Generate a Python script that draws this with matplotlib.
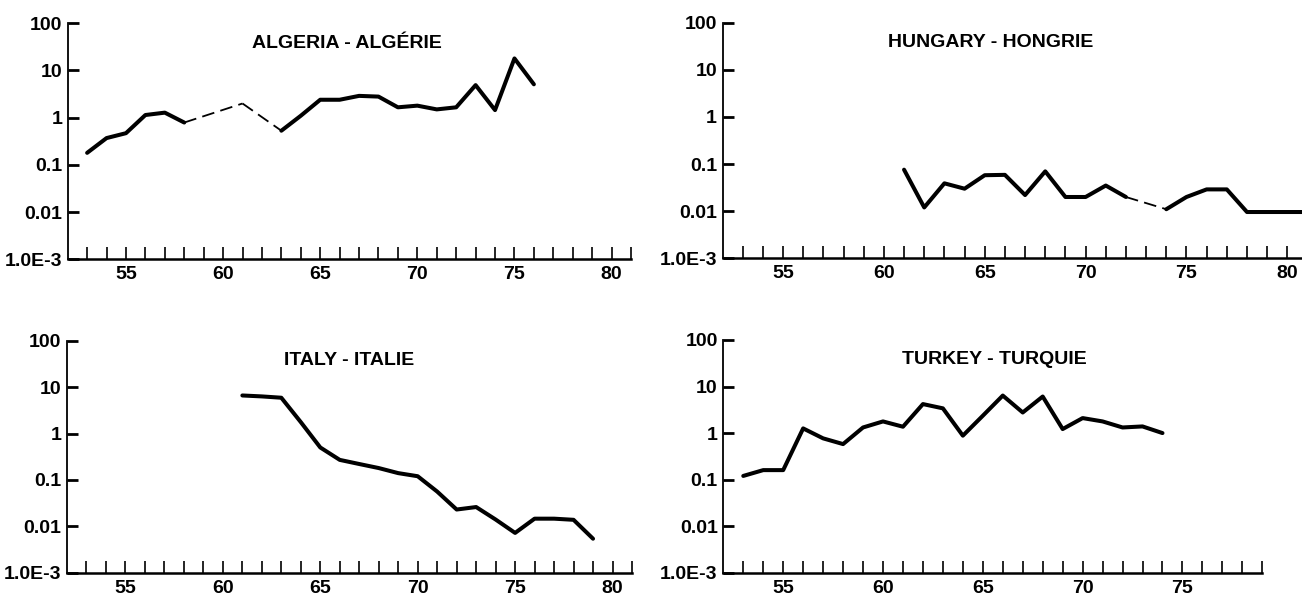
import matplotlib
matplotlib.use("Agg")
import matplotlib.pyplot as plt
import numpy as np

# ---------------- data ----------------
algeria_years = [53, 54, 55, 56, 57, 58, 61, 63, 64, 65, 66, 67, 68, 69, 70, 71, 72, 73, 74, 75, 76]
algeria_vals = [0.18, 0.37, 0.47, 1.14, 1.28, 0.79, 2.0, 0.53, 1.1, 2.4, 2.4, 2.9, 2.8, 1.66, 1.8, 1.5, 1.66, 4.9, 1.45, 18.0, 5.1]

hungary_years = [61, 62, 63, 64, 65, 66, 67, 68, 69, 70, 71, 72, 74, 75, 76, 77, 78, 79, 80, 81]
hungary_vals = [0.076, 0.012, 0.039, 0.030, 0.058, 0.059, 0.022, 0.070, 0.020, 0.020, 0.035, 0.020,
                0.011, 0.020, 0.029, 0.029, 0.0096, 0.0096, 0.0096, 0.0096]

italy_years = [61, 62, 63, 64, 65, 66, 67, 68, 69, 70, 71, 72, 73, 74, 75, 76, 77, 78, 79]
italy_vals = [6.6, 6.3, 5.9, 1.76, 0.5, 0.27, 0.22, 0.18, 0.14, 0.12, 0.056, 0.023, 0.026, 0.014,
              0.0072, 0.0146, 0.0146, 0.0138, 0.0054]

turkey_years = list(range(53, 75))
turkey_vals = [0.12, 0.16, 0.16, 1.26, 0.77, 0.58, 1.32, 1.78, 1.37, 4.2, 3.4, 0.88, 2.36, 6.4,
               2.77, 6.1, 1.22, 2.1, 1.78, 1.32, 1.39, 1.0]

titles = ["ALGERIA - ALGÉRIE", "HUNGARY - HONGRIE", "ITALY - ITALIE", "TURKEY - TURQUIE"]
y_ticks = [1e-3, 1e-2, 0.1, 1, 10, 100]
y_labels = ["1.0E-3", "0.01", "0.1", "1", "10", "100"]
x_label_years = [55, 60, 65, 70, 75, 80]

# ---------------- layout ----------------
W, H = 1302, 602
fig = plt.figure(figsize=(W / 100, H / 100), dpi=100)
fig.patch.set_facecolor("white")

FONT = ["Liberation Sans", "DejaVu Sans"]


def px_axes(left, right, top, bottom):
    return fig.add_axes([left / W, 1 - bottom / H, (right - left) / W, (bottom - top) / H])


panels = [
    # (years, values, title, axes pixel box, xmax, title x (year))
    (algeria_years, algeria_vals, titles[0], (67.7, 631, 23.3, 259.3), 81, 66.4),
    (hungary_years, hungary_vals, titles[1], (722.5, 1307.5, 22.7, 258.3), 81, 65.3),
    (italy_years, italy_vals, titles[2], (67, 632, 340.7, 572.7), 81, 66.5),
    (turkey_years, turkey_vals, titles[3], (723.3, 1262.3, 340, 572.7), 79, 65.6),
]

for years, vals, title, box, xmax, tx in panels:
    ax = px_axes(*box)
    ax.set_yscale("log")
    ax.set_xlim(52, xmax)
    ax.set_ylim(1e-3, 100)

    # solid runs of consecutive years, dashed where years are missing
    run_x, run_y = [years[0]], [vals[0]]
    for i in range(1, len(years)):
        if years[i] - years[i - 1] == 1:
            run_x.append(years[i]); run_y.append(vals[i])
        else:
            if len(run_x) > 1:
                ax.plot(run_x, run_y, color="black", lw=2.9, solid_joinstyle="round",
                        solid_capstyle="round", clip_on=True)
            ax.plot([years[i - 1], years[i]], [vals[i - 1], vals[i]], color="black", lw=1.3,
                    linestyle=(0, (7, 3.5)))
            run_x, run_y = [years[i]], [vals[i]]
    if len(run_x) > 1:
        ax.plot(run_x, run_y, color="black", lw=2.9, solid_joinstyle="round",
                solid_capstyle="round")

    # spines
    for s in ["top", "right"]:
        ax.spines[s].set_visible(False)
    ax.spines["left"].set_linewidth(1.3)
    ax.spines["bottom"].set_linewidth(1.8)

    # y ticks
    ax.yaxis.set_major_locator(matplotlib.ticker.FixedLocator(y_ticks))
    ax.yaxis.set_minor_locator(matplotlib.ticker.NullLocator())
    ax.set_yticklabels(y_labels)
    ax.tick_params(axis="y", direction="in", length=8, width=2.0, pad=4)

    # x ticks every year, labels at multiples of 5
    xt = list(range(53, xmax + 1))
    ax.set_xticks(xt)
    ax.set_xticklabels([str(v) if v in x_label_years else "" for v in xt])
    ax.xaxis.set_minor_locator(matplotlib.ticker.NullLocator())
    ax.tick_params(axis="x", direction="in", length=9, width=1.2, pad=5)

    for lab in ax.get_xticklabels() + ax.get_yticklabels():
        lab.set_family(FONT)
        lab.set_fontweight("bold")
        lab.set_fontsize(14)

    ax.text(tx, 10 ** 1.58, title, ha="center", va="center", fontsize=14,
            fontweight="bold", family=FONT)

fig.savefig("out.png", dpi=100, facecolor="white")
